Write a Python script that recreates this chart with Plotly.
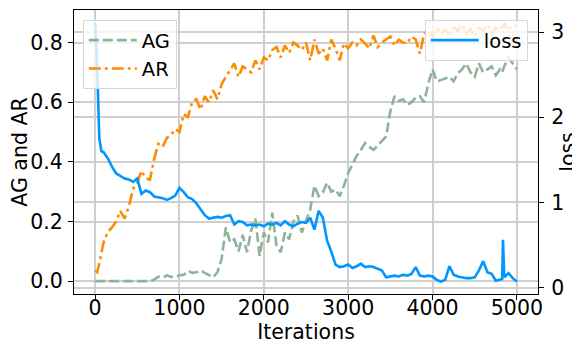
import plotly.graph_objects as go

ITERS = [0, 25, 50, 75] + list(range(100, 4801, 50)) + [4825, 4835, 4850, 4900, 4950, 5000]

LOSS = [3.12, 2.58, 1.75, 1.60, 1.59, 1.52, 1.42, 1.34, 1.31, 1.28,
        1.27, 1.24, 1.28, 1.10, 1.14, 1.12, 1.07, 1.06, 1.05, 1.03,
        1.05, 1.08, 1.17, 1.12, 1.06, 1.04, 0.99, 0.92, 0.85, 0.81,
        0.82, 0.83, 0.82, 0.84, 0.85, 0.74, 0.78, 0.77, 0.73, 0.74,
        0.73, 0.74, 0.72, 0.75, 0.74, 0.76, 0.73, 0.78, 0.74, 0.72,
        0.75, 0.77, 0.76, 0.82, 0.68, 0.90, 0.82, 0.55, 0.42, 0.27,
        0.24, 0.25, 0.27, 0.23, 0.25, 0.28, 0.24, 0.25, 0.24, 0.22,
        0.20, 0.12, 0.13, 0.14, 0.13, 0.15, 0.14, 0.16, 0.24, 0.14,
        0.13, 0.14, 0.13, 0.09, 0.07, 0.09, 0.25, 0.15, 0.13, 0.12,
        0.11, 0.11, 0.12, 0.20, 0.31, 0.18, 0.16, 0.08, 0.09,
        0.10, 0.56, 0.12, 0.17, 0.11, 0.07]

AR = [0.035, 0.03, 0.06, 0.10, 0.13, 0.165, 0.18, 0.20, 0.235, 0.21,
      0.25, 0.31, 0.33, 0.37, 0.345, 0.34, 0.41, 0.46, 0.45, 0.48,
      0.49, 0.51, 0.50, 0.56, 0.55, 0.60, 0.61, 0.575, 0.62, 0.60,
      0.64, 0.61, 0.66, 0.685, 0.71, 0.73, 0.685, 0.72, 0.71, 0.70,
      0.74, 0.71, 0.75, 0.74, 0.775, 0.785, 0.75, 0.79, 0.765, 0.80,
      0.79, 0.775, 0.80, 0.74, 0.81, 0.763, 0.78, 0.74, 0.81, 0.78,
      0.74, 0.797, 0.78, 0.80, 0.79, 0.81, 0.797, 0.78, 0.824, 0.785,
      0.80, 0.81, 0.82, 0.79, 0.81, 0.80, 0.797, 0.82, 0.81, 0.763,
      0.83, 0.84, 0.82, 0.85, 0.83, 0.845, 0.82, 0.85, 0.84, 0.86,
      0.83, 0.845, 0.82, 0.85, 0.84, 0.86, 0.83, 0.85, 0.84,
      0.86, 0.85, 0.866, 0.84, 0.86, 0.855]

AG = [0.0, 0.0, 0.0, 0.0, 0.0, 0.0, 0.0, 0.0, 0.0, 0.0,
      0.0, 0.0, 0.0, 0.0, 0.0, 0.0, 0.005, 0.015, 0.012, 0.019,
      0.015, 0.013, 0.02, 0.021, 0.035, 0.028, 0.03, 0.036, 0.028, 0.02,
      0.013, 0.03, 0.075, 0.18, 0.13, 0.14, 0.10, 0.155, 0.097, 0.17,
      0.21, 0.085, 0.163, 0.13, 0.23, 0.12, 0.097, 0.163, 0.14, 0.20,
      0.22, 0.163, 0.20, 0.24, 0.32, 0.285, 0.297, 0.33, 0.30, 0.307,
      0.285, 0.32, 0.363, 0.39, 0.42, 0.44, 0.463, 0.45, 0.44, 0.455,
      0.47, 0.485, 0.57, 0.62, 0.605, 0.61, 0.59, 0.60, 0.615, 0.62,
      0.60, 0.663, 0.71, 0.67, 0.674, 0.68, 0.685, 0.67, 0.697, 0.71,
      0.73, 0.70, 0.685, 0.73, 0.70, 0.71, 0.72, 0.69, 0.71,
      0.70, 0.71, 0.72, 0.75, 0.73, 0.71]

X_TICKS = [0, 1000, 2000, 3000, 4000, 5000]
LEFT_TICKS = [0.0, 0.2, 0.4, 0.6, 0.8]
RIGHT_TICKS = [0, 1, 2, 3]

FONT = dict(family="DejaVu Sans", size=20.5, color="black")
LEG_FONT = dict(family="DejaVu Sans", size=19.5, color="black")
GRID = "#cfcfcf"

fig = go.Figure()
fig.add_trace(go.Scatter(x=ITERS, y=AG, name="AG", mode="lines",
                         line=dict(color="#8fb39a", width=2.6, dash="10px,4px"),
                         legend="legend"))
fig.add_trace(go.Scatter(x=ITERS, y=AR, name="AR", mode="lines",
                         line=dict(color="#ff8c00", width=2.6, dash="12px,4px,3px,4px"),
                         legend="legend"))
fig.add_trace(go.Scatter(x=ITERS, y=LOSS, name="loss", mode="lines", yaxis="y2",
                         line=dict(color="#0096ff", width=2.6),
                         legend="legend2"))

axis_common = dict(showline=True, linecolor="black", linewidth=1.2,
                   ticks="outside", ticklen=5, tickwidth=1.2, tickcolor="black",
                   showgrid=True, gridcolor=GRID, gridwidth=1.5, zeroline=False,
                   tickfont=FONT, automargin=False)

# the page body adds an 8px offset, so the figure is sized to fill the rest of the window
fig.update_layout(
    width=572, height=339,
    margin=dict(l=66, r=42, t=2, b=53),
    paper_bgcolor="white", plot_bgcolor="white",
    font=FONT,
    xaxis=dict(range=[-250, 5250], tickvals=X_TICKS, mirror=True, ticklabelstandoff=-10,
               title=dict(text="Iterations", font=FONT, standoff=0), **axis_common),
    yaxis=dict(range=[-0.043, 0.909], tickvals=LEFT_TICKS, tickformat=".1f",
               ticklabelstandoff=1,
               title=dict(text="AG and AR", font=FONT, standoff=0), **axis_common),
    yaxis2=dict(range=[-0.076, 3.26], tickvals=RIGHT_TICKS, overlaying="y", side="right",
                ticklabelstandoff=3,
                title=dict(text="loss", font=FONT, standoff=0), **axis_common),
    legend=dict(x=0.019, y=0.965, xanchor="left", yanchor="top",
                bgcolor="rgba(255,255,255,0.8)", bordercolor="#d8d8d8", borderwidth=1,
                font=LEG_FONT, itemwidth=48, tracegroupgap=0),
    legend2=dict(x=0.978, y=0.965, xanchor="right", yanchor="top",
                 bgcolor="rgba(255,255,255,0.8)", bordercolor="#d8d8d8", borderwidth=1,
                 font=LEG_FONT, itemwidth=48),
)

fig.write_html("out.html")
